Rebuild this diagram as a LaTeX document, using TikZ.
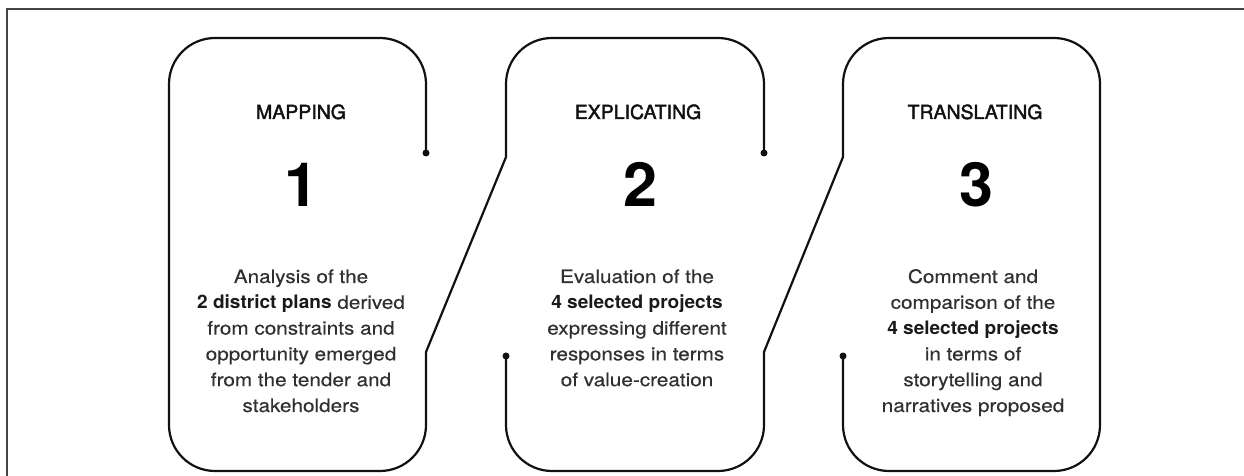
\documentclass[tikz,border=0pt]{standalone}
\usepackage{fontspec}
\setmainfont{TeX Gyre Heros}
\newfontfamily\bodyfont[FakeStretch=1.12,FakeBold=0.4]{TeX Gyre Heros}
\newfontfamily\bodybold[FakeStretch=1.03]{TeX Gyre Heros}
\newfontfamily\titlefont[FakeBold=2]{TeX Gyre Heros}
\definecolor{linecol}{HTML}{111111}
\definecolor{framecol}{HTML}{444444}
\definecolor{bodytext}{HTML}{303030}
\definecolor{boldtext}{HTML}{1A1A1A}
\newcommand\hlt[1]{{\bodybold\bfseries\color{boldtext}#1}}
\tikzset{
  outline/.style={draw=linecol, line width=2.2pt, line join=round},
  framestyle/.style={draw=framecol, line width=1.4pt},
  enddot/.style={circle, fill=linecol, inner sep=0pt, minimum size=7pt},
  titlestyle/.style={inner sep=0pt, anchor=base, text=linecol, font=\titlefont\fontsize{19.5}{23}\selectfont},
  numstyle/.style={inner sep=0pt, anchor=base, text=black, font=\bfseries\fontsize{61}{70}\selectfont},
  bodyline/.style={inner sep=0pt, anchor=base, text=bodytext, font=\bodyfont\fontsize{18.5}{25.8}\selectfont}
}
\begin{document}
\begin{tikzpicture}[x=1pt,y=1pt]
\useasboundingbox (0,0) rectangle (1244,476);
% outer frame (cut by the page on the right and bottom)
\draw[framestyle] (7,-10) -- (7,467) -- (1260,467);

% key points
\coordinate (d1) at (426,323);
\coordinate (d2) at (764,323);
\coordinate (d3) at (506,120);
\coordinate (d4) at (843,120);

% path through boxes 1 and 2 (top)
\draw[outline] (d1) -- (426,392) arc[start angle=0,end angle=90,radius=46]
  -- (215,438) arc[start angle=90,end angle=180,radius=46]
  -- (169,51) arc[start angle=180,end angle=270,radius=46]
  -- (380,5) arc[start angle=270,end angle=360,radius=46]
  -- (426,124) -- (506,319) -- (506,392) arc[start angle=180,end angle=90,radius=46]
  -- (718,438) arc[start angle=90,end angle=0,radius=46]
  -- (d2);

% path through boxes 2 (bottom) and 3
\draw[outline] (d3) -- (506,51) arc[start angle=180,end angle=270,radius=46]
  -- (718,5) arc[start angle=270,end angle=360,radius=46]
  -- (764,124) -- (843,319) -- (843,392) arc[start angle=180,end angle=90,radius=46]
  -- (1054,438) arc[start angle=90,end angle=0,radius=46]
  -- (1100,51) arc[start angle=0,end angle=-90,radius=46]
  -- (889,5) arc[start angle=270,end angle=180,radius=46]
  -- (d4);

\node[enddot] (e1) at (d1) {};
\node[enddot] (e2) at (d2) {};
\node[enddot] (e3) at (d3) {};
\node[enddot] (e4) at (d4) {};

% titles
\node[titlestyle] (t1) at (301,357) {MAPPING};
\node[titlestyle] (t2) at (638,357) {EXPLICATING};
\node[titlestyle] (t3) at (975,357) {TRANSLATING};

% numbers
\node[numstyle] (n1) at (301,269) {1};
\node[numstyle] (n2) at (640,269) {2};
\node[numstyle] (n3) at (976,269) {3};

% descriptions, one node per line, baselines 25.8pt apart
\foreach \txt [count=\i] in {Analysis of the, {\hlt{2 district plans} derived},
    from constraints and, opportunity emerged, from the tender and, stakeholders}
  \node[bodyline] (b1-\i) at (301,{193-(\i-1)*25.8}) {\txt};
\foreach \txt [count=\i] in {Evaluation of the, {\hlt{4 selected projects}},
    expressing different, responses in terms, of value-creation}
  \node[bodyline] (b2-\i) at (637,{193-(\i-1)*25.8}) {\txt};
\foreach \txt [count=\i] in {Comment and, comparison of the, {\hlt{4 selected projects}},
    in terms of, storytelling and, narratives proposed}
  \node[bodyline] (b3-\i) at (973,{193-(\i-1)*25.8}) {\txt};
\end{tikzpicture}
\end{document}
